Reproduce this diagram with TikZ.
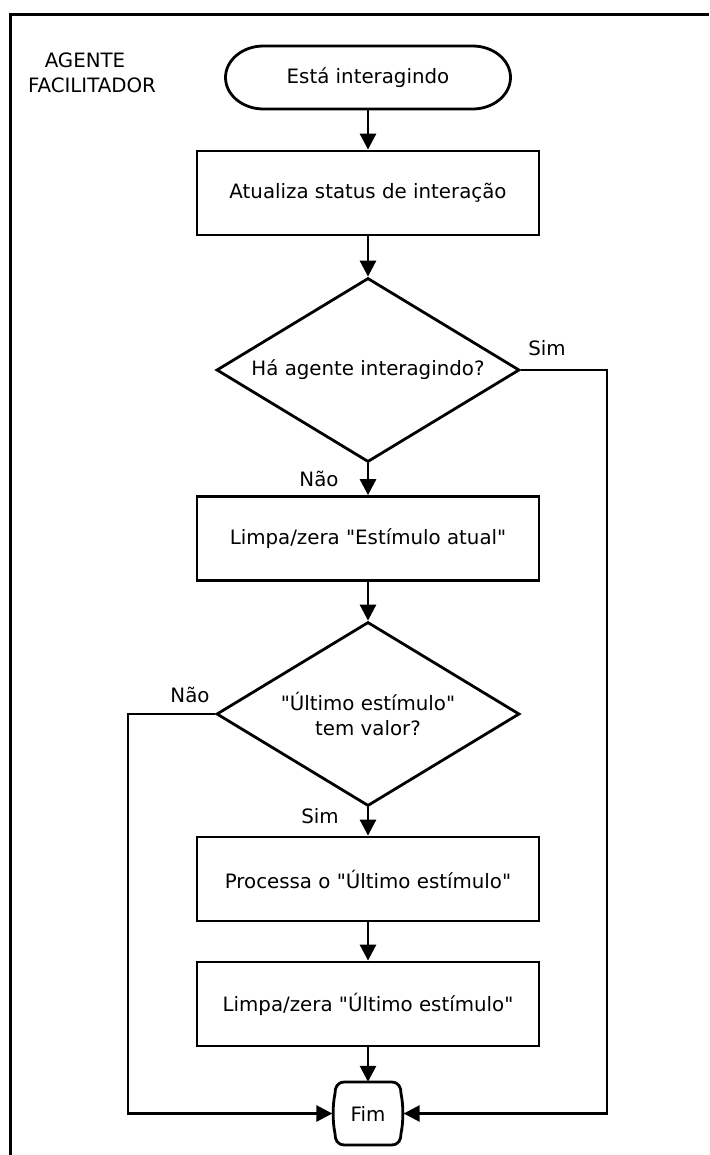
\documentclass[tikz,border=0pt]{standalone}
\usepackage{fontspec}
% plain family without TeX ligature mapping, so " stays a straight quote
\newfontfamily\djv{DejaVu Sans}
\usetikzlibrary{shapes.geometric,arrows.meta}

\tikzset{
  line/.style={line width=2.8pt, line join=miter},
  flow/.style={line, -{Triangle[width=16pt,length=16pt]}},
  txt/.style={font=\djv\fontsize{19.8}{25}\selectfont, text=black, align=center, inner sep=0pt},
  procbox/.style={txt, draw, line width=2.8pt, minimum width=342pt, minimum height=84pt},
  decision/.style={txt, draw, line width=2.8pt, diamond, shape aspect=1.65,
    minimum width=303pt, minimum height=184pt},
  ghost/.style={txt, draw=none},
  lbl/.style={txt}
}

\begin{document}
\begin{tikzpicture}[x=1pt,y=1pt]
  \useasboundingbox (0,0) rectangle (709,-1155);

  % outer frame (left and top edges)
  \draw[line width=3pt] (10,-1155) -- (10,-15) -- (709,-15);

  % title
  \node[lbl] (title1) at (85,-60) {AGENTE};
  \node[lbl] (title2) at (92,-85) {FACILITADOR};

  % start terminal
  \node[ghost, minimum width=285pt, minimum height=63pt] (start) at (368,-77.5) {Está interagindo};
  \draw[line, shift={(start.center)}]
    (-104.5,31.5) -- (104.5,31.5)
    arc[start angle=90, end angle=-90, x radius=38, y radius=31.5]
    -- (-104.5,-31.5)
    arc[start angle=270, end angle=90, x radius=38, y radius=31.5] -- cycle;

  % process steps and decisions
  \node[procbox] (upd) at (368,-193) {Atualiza status de interação};
  \node[decision] (q1) at (368,-370) {Há agente interagindo?};
  \node[procbox] (clr1) at (368,-538.5) {Limpa/zera "Estímulo atual"};
  \node[decision] (q2) at (368,-714) {"Último estímulo"\\tem valor?};
  \node[procbox] (proc) at (368,-879) {Processa o "Último estímulo"};
  \node[procbox] (clr2) at (368,-1004) {Limpa/zera "Último estímulo"};

  % end terminal
  \node[ghost, minimum width=71pt, minimum height=63pt] (fim) at (368,-1113.5) {Fim};
  \draw[line, shift={(fim.center)}]
    (-23,31.5) -- (23,31.5)
    .. controls (31,31.5) and (33,26) .. (33,20)
    .. controls (35.5,8) and (35.5,-8) .. (33,-20)
    .. controls (33,-26) and (31,-31.5) .. (23,-31.5)
    -- (-23,-31.5)
    .. controls (-31,-31.5) and (-33,-26) .. (-33,-20)
    .. controls (-35.5,-8) and (-35.5,8) .. (-33,20)
    .. controls (-33,26) and (-31,31.5) .. (-23,31.5) -- cycle;

  % main flow
  \draw[flow] (start.south) -- (upd.north);
  \draw[flow] (upd.south) -- (q1.north);
  \draw[flow] (q1.south) -- (clr1.north);
  \draw[flow] (clr1.south) -- (q2.north);
  \draw[flow] (q2.south) -- (proc.north);
  \draw[flow] (proc.south) -- (clr2.north);
  \draw[flow] (clr2.south) -- (fim.north);

  % side branches
  \coordinate (r1) at (607,-370);
  \coordinate (r2) at (607,-1113.5);
  \draw[flow] (q1.east) -- (r1) -- (r2) -- (fim.east);
  \coordinate (l1) at (128,-714);
  \coordinate (l2) at (128,-1113.5);
  \draw[flow] (q2.west) -- (l1) -- (l2) -- (fim.west);

  % branch labels
  \node[lbl] (sim1) at (547,-348) {Sim};
  \node[lbl] (nao1) at (319,-479) {Não};
  \node[lbl] (nao2) at (190,-695) {Não};
  \node[lbl] (sim2) at (320,-816) {Sim};
\end{tikzpicture}
\end{document}
